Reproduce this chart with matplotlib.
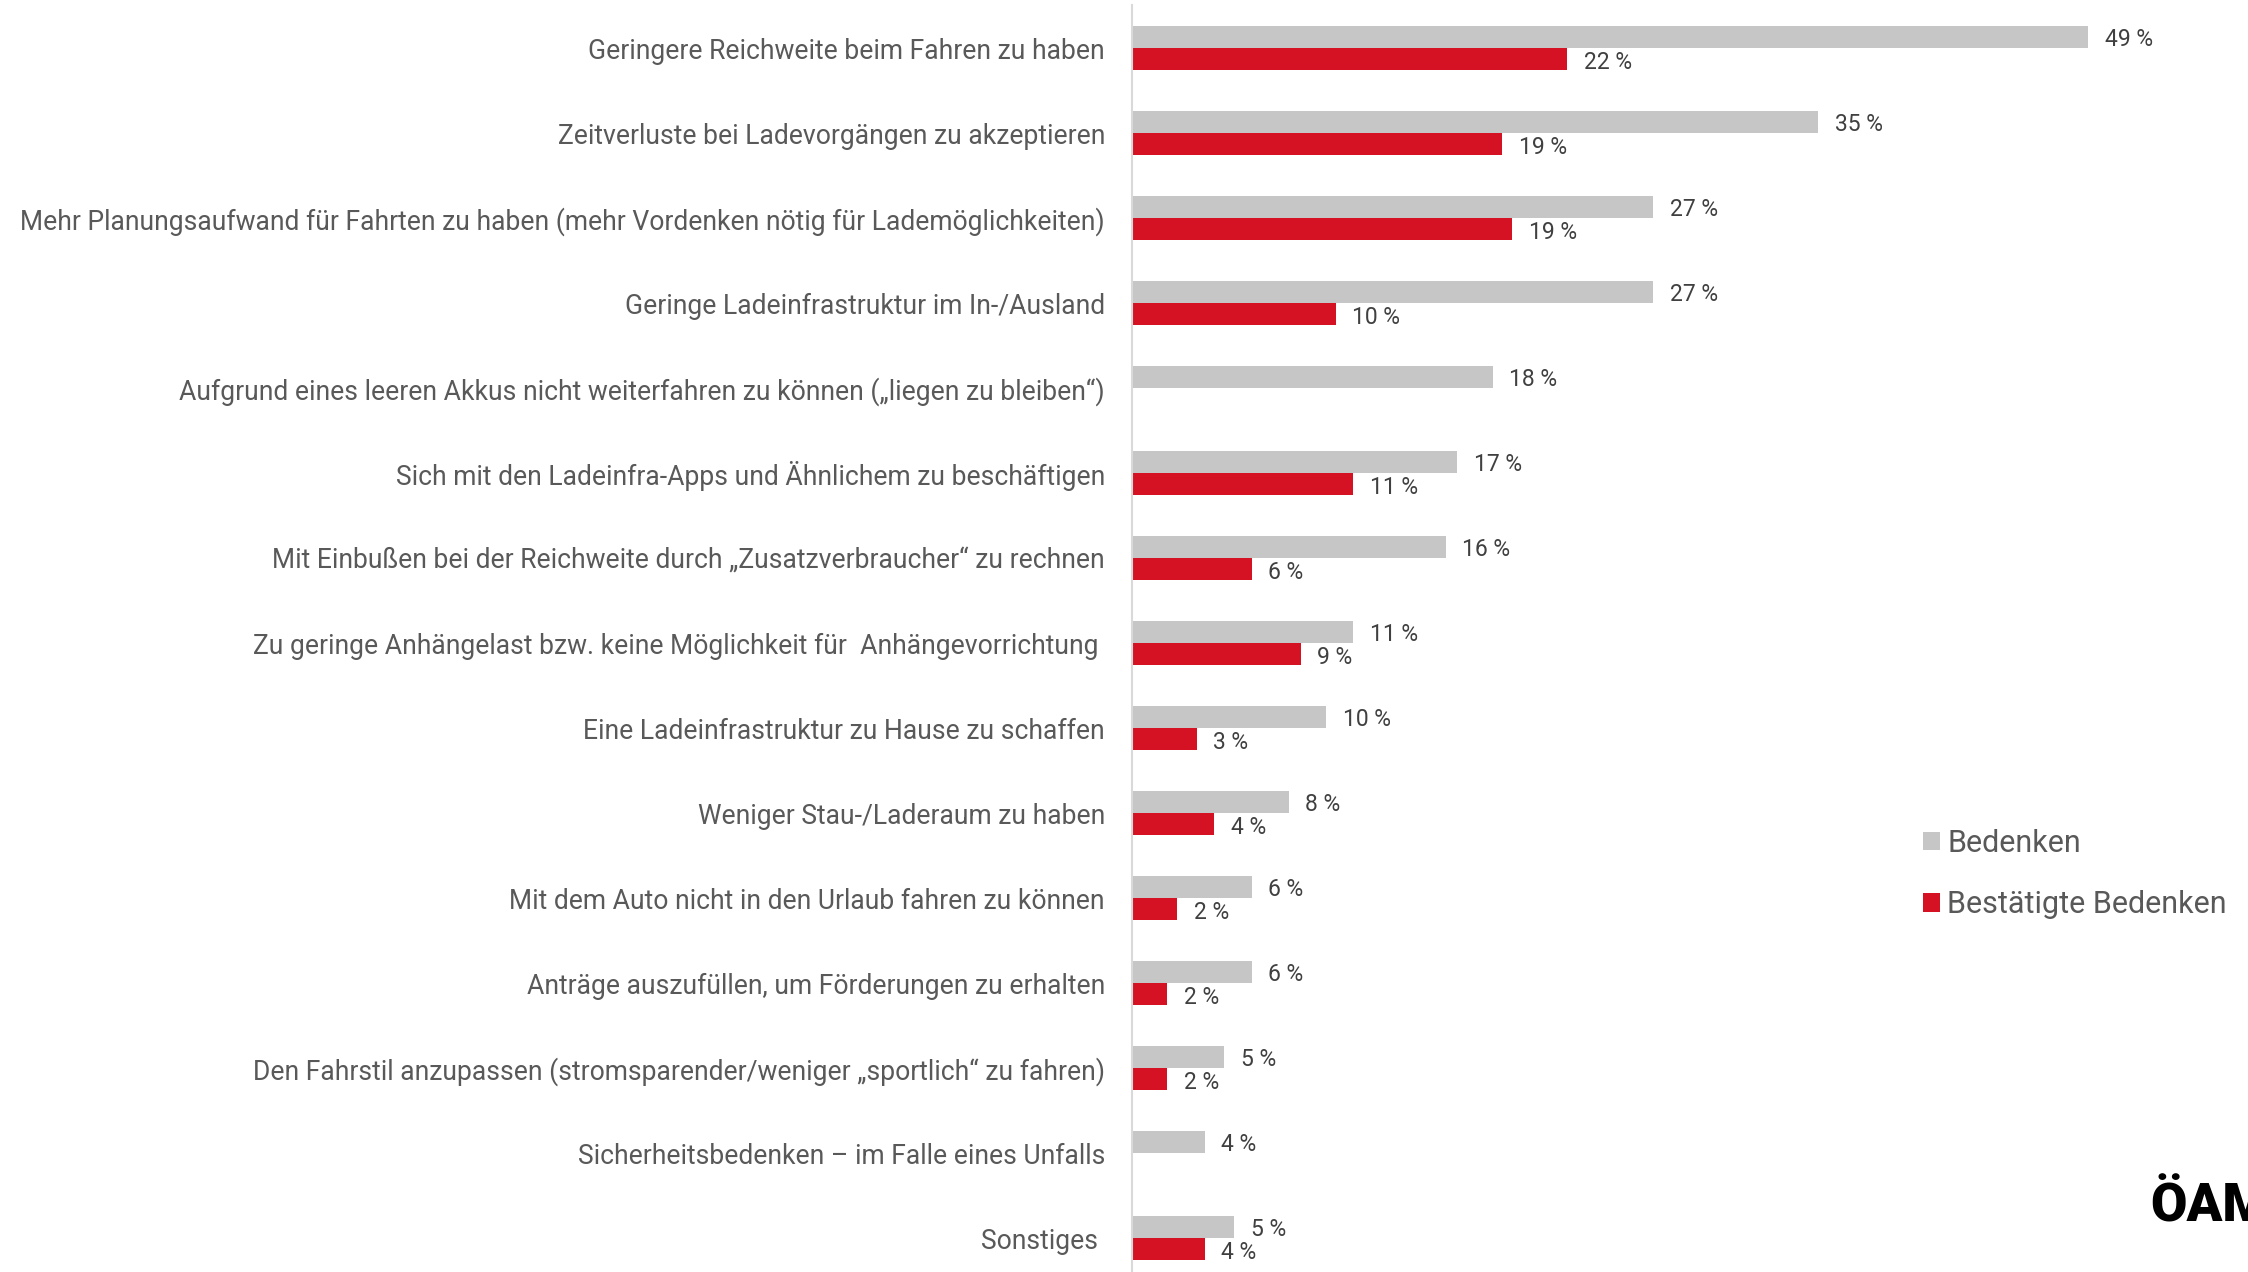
import matplotlib
matplotlib.use("Agg")
import matplotlib.pyplot as plt
import numpy as np

plt.rcParams['font.family'] = ['Roboto', 'DejaVu Sans']

categories = [
    "Geringere Reichweite beim Fahren zu haben",
    "Zeitverluste bei Ladevorgängen zu akzeptieren",
    "Mehr Planungsaufwand für Fahrten zu haben (mehr Vordenken nötig für Lademöglichkeiten)",
    "Geringe Ladeinfrastruktur im In-/Ausland",
    "Aufgrund eines leeren Akkus nicht weiterfahren zu können („liegen zu bleiben“)",
    "Sich mit den Ladeinfra-Apps und Ähnlichem zu beschäftigen",
    "Mit Einbußen bei der Reichweite durch „Zusatzverbraucher“ zu rechnen",
    "Zu geringe Anhängelast bzw. keine Möglichkeit für  Anhängevorrichtung ",
    "Eine Ladeinfrastruktur zu Hause zu schaffen",
    "Weniger Stau-/Laderaum zu haben",
    "Mit dem Auto nicht in den Urlaub fahren zu können",
    "Anträge auszufüllen, um Förderungen zu erhalten",
    "Den Fahrstil anzupassen (stromsparender/weniger „sportlich“ zu fahren)",
    "Sicherheitsbedenken – im Falle eines Unfalls",
    "Sonstiges ",
]
# bar lengths and the printed (rounded) labels
bedenken = [48.8, 35.0, 26.6, 26.6, 18.4, 16.6, 16.0, 11.3, 9.9, 8.0, 6.1, 6.1, 4.7, 3.7, 5.2]
bestaetigt = [22.2, 18.9, 19.4, 10.4, None, 11.3, 6.1, 8.6, 3.3, 4.2, 2.3, 1.8, 1.8, None, 3.7]
bedenken_labels = ["49 %", "35 %", "27 %", "27 %", "18 %", "17 %", "16 %", "11 %", "10 %",
                   "8 %", "6 %", "6 %", "5 %", "4 %", "5 %"]
bestaetigt_labels = ["22 %", "19 %", "19 %", "10 %", None, "11 %", "6 %", "9 %", "3 %",
                     "4 %", "2 %", "2 %", "2 %", None, "4 %"]
series_names = ["Bedenken", "Bestätigte Bedenken"]

GRAY = "#c6c6c6"
RED = "#d51224"
LABEL_C = "#595959"
VAL_C = "#404040"

W, H = 2248, 1272
fig = plt.figure(figsize=(W / 100, H / 100), dpi=100)
ax_left = 1132 / W
ax_top = 1 - 5 / H
ax = fig.add_axes([ax_left, 0.0, 56 * 19.6 / W, ax_top])

n = len(categories)
y = np.arange(n)
bh = 0.26
g_vals = [v if v is not None else 0 for v in bedenken]
r_vals = [v if v is not None else 0 for v in bestaetigt]
b1 = ax.barh(y - bh / 2, g_vals, height=bh, color=GRAY, label=series_names[0])
b2 = ax.barh(y + bh / 2, r_vals, height=bh, color=RED, label=series_names[1])

gap = 0.85
dy = 0.035
for i in range(n):
    if bedenken[i] is not None:
        ax.text(bedenken[i] + gap, y[i] - bh / 2 + dy, bedenken_labels[i], va="center", ha="left",
                fontsize=16.5, color=VAL_C)
    if bestaetigt[i] is not None:
        ax.text(bestaetigt[i] + gap, y[i] + bh / 2 + dy, bestaetigt_labels[i], va="center", ha="left",
                fontsize=16.5, color=VAL_C)

ax.set_xlim(0, 56)
ax.set_ylim(14.4, -0.506)
ax.set_yticks(y)
ax.set_yticklabels(categories, fontsize=19.1, color=LABEL_C)
ax.tick_params(axis="y", length=0, pad=19.5)
ax.set_xticks([])
for s in ["top", "right", "bottom"]:
    ax.spines[s].set_visible(False)
ax.spines["left"].set_color("#d9d9d9")
ax.spines["left"].set_linewidth(1.5)

leg = fig.legend(handles=[b1, b2], labels=series_names, loc="upper left",
                 bbox_to_anchor=(1923 / W, 1 - 829 / H), frameon=False,
                 borderpad=0, borderaxespad=0,
                 fontsize=22, handlelength=0.55, handleheight=0.55, handletextpad=0.25,
                 labelspacing=1.06, labelcolor=LABEL_C)

fig.text(2150 / W, 1 - 1222 / H, "ÖAM", fontsize=38, fontweight="black", color="black",
         ha="left", va="baseline")

fig.savefig("out.png", dpi=100)
